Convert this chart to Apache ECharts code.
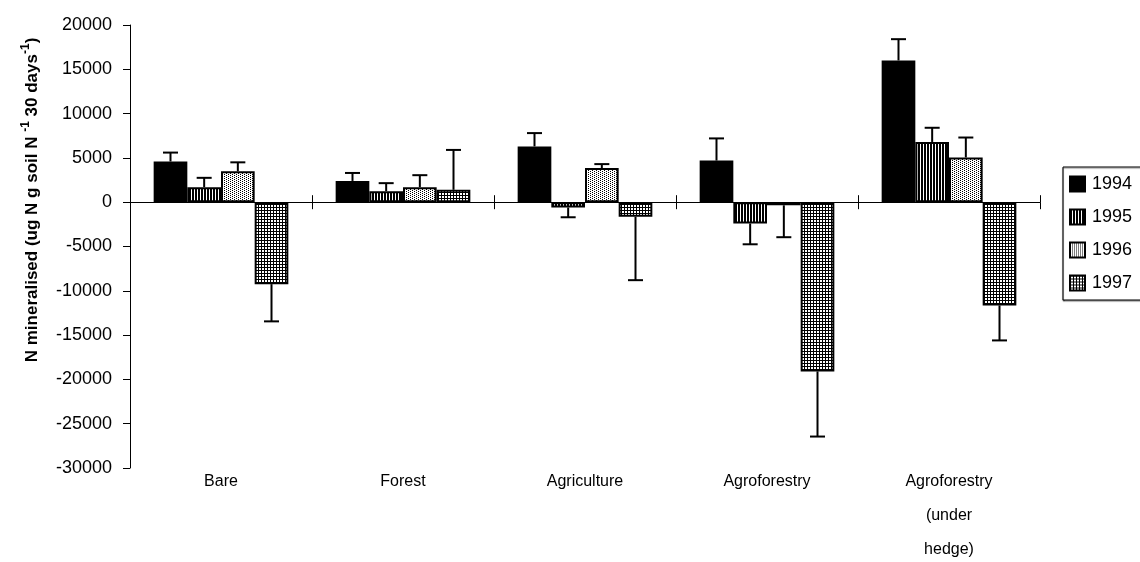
<!DOCTYPE html>
<html>
<head>
<meta charset="utf-8">
<script src="https://cdn.jsdelivr.net/npm/echarts@6/dist/echarts.min.js"></script>
<style>
html,body{margin:0;padding:0;background:#fff;}
#chart{width:1140px;height:562px;}
</style>
</head>
<body>
<div id="chart"></div>
<script>
const categories = ['Bare', 'Forest', 'Agriculture', 'Agroforestry', 'Agroforestry\n(under\nhedge)'];
const years = ['1994', '1995', '1996', '1997'];
const v1994 = [4600, 2400, 6300, 4700, 16000];
const v1995 = [1700, 1250, -600, -2400, 6800];
const v1996 = [3500, 1700, 3850, -350, 5050];
const v1997 = [-9250, 1400, -1650, -19100, -11650];
const e1994 = [1000, 900, 1500, 2500, 2400];
const e1995 = [1050, 900, 1100, 2350, 1600];
const e1996 = [1000, 1350, 450, 3600, 2250];
const e1997 = [4200, 4500, 7150, 7350, 3950];
const yTicks = { min: -30000, max: 20000, interval: 5000 };

const values = [v1994, v1995, v1996, v1997];
const errors = [e1994, e1995, e1996, e1997];
const GAP = 0.26;
const FONT = '"Liberation Sans", Arial, sans-serif';

function makeTile(w, h, blackPixels) {
  const c = document.createElement('canvas');
  c.width = w; c.height = h;
  const ctx = c.getContext('2d');
  ctx.fillStyle = '#fff';
  ctx.fillRect(0, 0, w, h);
  ctx.fillStyle = '#000';
  blackPixels.forEach(p => ctx.fillRect(p[0], p[1], 1, 1));
  return c;
}
const fills = [
  '#000',
  { image: makeTile(3, 1, [[0,0],[1,0]]), repeat: 'repeat' },
  { image: makeTile(2, 2, [[0,0],[1,1]]).width && makeTile(4, 2, [[0,0],[2,1]]), repeat: 'repeat' },
  { image: makeTile(3, 3, [[0,0],[1,0],[2,0],[0,1],[0,2]]), repeat: 'repeat' }
];

const series = [];
years.forEach((y, k) => {
  series.push({
    name: y,
    type: 'bar',
    xAxisIndex: 0,
    data: values[k],
    barGap: '0%',
    barCategoryGap: (GAP * 100) + '%',
    itemStyle: { color: fills[k], borderColor: '#000', borderWidth: 2 },
    emphasis: { disabled: true },
    z: 2
  });
});
years.forEach((y, k) => {
  series.push({
    name: 'err' + y,
    type: 'custom',
    xAxisIndex: 0,
    data: categories.map((c, i) => [i, values[k][i], errors[k][i]]),
    encode: { x: 0, y: 1 },
    z: 3,
    renderItem: function (params, api) {
      const ci = api.value(0), v = api.value(1), e = api.value(2);
      const band = api.size([1, 0])[0];
      const bw = band * (1 - GAP) / 4;
      const cx = api.coord([ci, 0])[0] + (k - 1.5) * bw;
      const p0 = api.coord([ci, v])[1];
      const p1 = api.coord([ci, v + Math.sign(v) * e])[1];
      const st = { stroke: '#000', lineWidth: 2 };
      return {
        type: 'group',
        children: [
          { type: 'line', shape: { x1: cx, y1: p0, x2: cx, y2: p1 }, style: st },
          { type: 'line', shape: { x1: cx - 7.5, y1: p1, x2: cx + 7.5, y2: p1 }, style: st }
        ]
      };
    }
  });
});

const chart = echarts.init(document.getElementById('chart'), null, { renderer: 'canvas' });
chart.setOption({
  animation: false,
  backgroundColor: '#fff',
  grid: { left: 130, right: 100, top: 25, bottom: 94, containLabel: false, outerBoundsMode: 'none' },
  legend: {
    data: years,
    orient: 'vertical',
    left: 1063,
    top: 167,
    icon: 'rect',
    itemWidth: 15,
    itemHeight: 15,
    itemGap: 15,
    padding: [8, 60, 8, 6],
    borderColor: '#000',
    borderWidth: 1,
    shadowColor: 'rgba(0,0,0,0.5)',
    shadowOffsetY: 1,
    shadowOffsetX: 0,
    shadowBlur: 1,
    backgroundColor: '#fff',
    selectedMode: false,
    textStyle: { fontFamily: FONT, fontSize: 18, color: '#000', lineHeight: 18, padding: [0, 0, 0, 2] }
  },
  xAxis: [
    {
      type: 'category', data: categories, position: 'bottom',
      axisLine: { show: false, onZero: false }, axisTick: { show: false },
      axisLabel: { fontFamily: FONT, fontSize: 16, color: '#000', margin: -3, lineHeight: 34, interval: 0 }
    },
    {
      type: 'category', data: categories, position: 'bottom',
      axisLine: { show: true, onZero: true, lineStyle: { color: '#000', width: 1 } },
      axisTick: { show: true, inside: false, length: 7, lineStyle: { color: '#000' } },
      axisLabel: { show: false }
    },
    {
      type: 'category', data: categories, position: 'bottom',
      axisLine: { show: false, onZero: false },
      axisTick: { show: true, inside: true, length: 7, lineStyle: { color: '#000' } },
      axisLabel: { show: false }
    }
  ],
  yAxis: {
    type: 'value', min: yTicks.min, max: yTicks.max, interval: yTicks.interval,
    axisLine: { show: true, lineStyle: { color: '#000', width: 1 } },
    axisTick: { show: true, length: 7, lineStyle: { color: '#000' } },
    splitLine: { show: false },
    axisLabel: { fontFamily: FONT, fontSize: 18, color: '#000', margin: 18, formatter: v => String(v) }
  },
  graphic: [{
    type: 'text',
    x: 30, y: 200,
    rotation: Math.PI / 2,
    style: {
      text: '{a|N mineralised (ug N g soil N }{s|-1}{a| 30 days}{s|-1}{a|)}',
      align: 'center',
      verticalAlign: 'middle',
      rich: {
        a: { fontFamily: FONT, fontSize: 17, fontWeight: 'bold', fill: '#000', lineHeight: 21, verticalAlign: 'bottom' },
        s: { fontFamily: FONT, fontSize: 12, fontWeight: 'bold', fill: '#000', lineHeight: 21, verticalAlign: 'top' }
      }
    }
  }],
  series: series
});

// move the upward-pointing tick row onto the zero line
const yZero = chart.convertToPixel({ yAxisIndex: 0 }, 0);
const yBottom = chart.convertToPixel({ yAxisIndex: 0 }, yTicks.min);
chart.setOption({ xAxis: [{}, {}, { offset: -(yBottom - yZero) }] });
</script>
</body>
</html>
